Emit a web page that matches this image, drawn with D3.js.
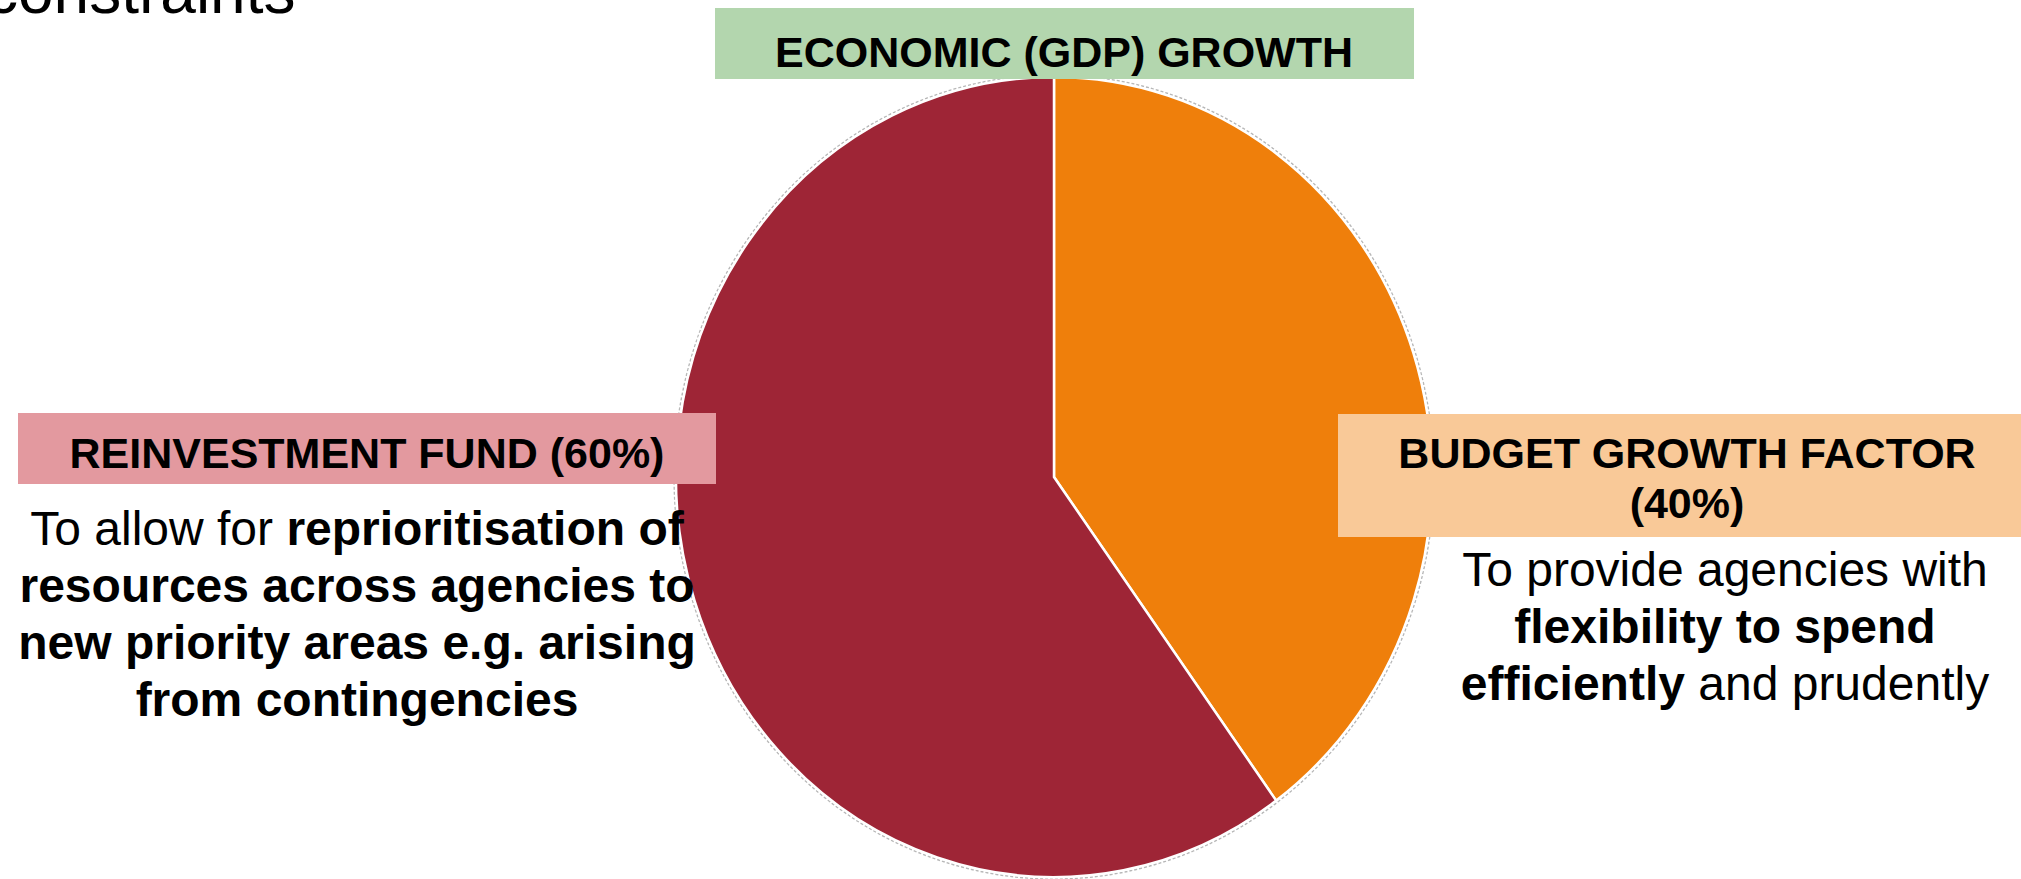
<!DOCTYPE html>
<html lang="en">
    <head>
        <meta charset="UTF-8" />
        <title>index</title>
        <script src="https://d3js.org/d3.v7.min.js"></script>
        <style>
            body {
                margin: 0;
                background-color: white;
                overflow: hidden;
            }
            text {
                font-family: "Liberation Sans", Arial, sans-serif;
                fill: black;
            }
        </style>
    </head>
    <body>
        <div id="my_dataviz"></div>
    </body>
<script>
// chart data
var categories = ["BUDGET GROWTH FACTOR", "REINVESTMENT FUND"];
var shares = [40, 60];
var topLabel = "ECONOMIC (GDP) GROWTH";

// header text for each side box
var leftHeader = ["REINVESTMENT FUND (60%)"];
var rightHeader = ["BUDGET GROWTH FACTOR", "(40%)"];

// description lines, each line is a list of [text, bold]
var leftLines = [
    [["To allow for ", false], ["reprioritisation of", true]],
    [["resources across agencies to", true]],
    [["new priority areas e.g. arising", true]],
    [["from contingencies", true]]
];
var rightLines = [
    [["To provide agencies with", false]],
    [["flexibility to spend", true]],
    [["efficiently", true], [" and prudently", false]]
];

var width = 2021, height = 879;

var svg = d3.select("#my_dataviz")
  .append("svg")
    .attr("width", width)
    .attr("height", height);

// slide title cut off at the top
svg.append("text")
    .attr("x", -14)
    .attr("y", 13)
    .style("font-size", "64px")
    .text("constraints");

// pie (slightly squeezed horizontally like the source)
var cx = 1054, cy = 477, r = 400, sx = 378 / 400;

var color = d3.scaleOrdinal()
    .domain(categories)
    .range(["#ef7f0b", "#9e2536"]);

var pie = d3.pie().sort(null).value(function(d, i) { return shares[i]; });
var arc = d3.arc().innerRadius(0).outerRadius(r);

var pg = svg.append("g")
    .attr("transform", "translate(" + cx + "," + cy + ") scale(" + sx + ",1)");

// faint dashed outline round the pie
pg.append("circle")
    .attr("r", r + 2)
    .attr("fill", "none")
    .attr("stroke", "#b8b8b8")
    .attr("stroke-width", 1.5)
    .attr("stroke-dasharray", "3,2")
    .attr("vector-effect", "non-scaling-stroke");

pg.selectAll("path")
  .data(pie(categories))
  .enter()
  .append("path")
    .attr("d", arc)
    .attr("fill", function(d) { return color(d.data); })
    .attr("stroke", "white")
    .attr("stroke-width", 2.5)
    .attr("stroke-linejoin", "miter")
    .attr("vector-effect", "non-scaling-stroke");

// header boxes
function headerBox(x, y, w, h, fill, lines, tx, ty) {
    svg.append("rect")
        .attr("x", x).attr("y", y)
        .attr("width", w).attr("height", h)
        .attr("fill", fill);
    svg.selectAll(null)
      .data(lines)
      .enter()
      .append("text")
        .attr("x", tx)
        .attr("y", function(d, i) { return ty + i * 50; })
        .attr("text-anchor", "middle")
        .style("font-size", "43px")
        .style("font-weight", "bold")
        .text(function(d) { return d; });
}

headerBox(715, 8, 699, 71, "#b3d6ae", [topLabel], 1064, 67);
headerBox(18, 413, 698, 71, "#e3999f", leftHeader, 367, 468);
headerBox(1338, 414, 700, 123, "#f9c998", rightHeader, 1687, 468);

// description text blocks
function textBlock(lines, tx, ty) {
    var t = svg.selectAll(null)
      .data(lines)
      .enter()
      .append("text")
        .attr("x", tx)
        .attr("y", function(d, i) { return ty + i * 57; })
        .attr("text-anchor", "middle")
        .style("font-size", "48px");
    t.selectAll("tspan")
      .data(function(d) { return d; })
      .enter()
      .append("tspan")
        .style("font-weight", function(d) { return d[1] ? "bold" : "normal"; })
        .text(function(d) { return d[0]; });
}

textBlock(leftLines, 357, 545);
textBlock(rightLines, 1725, 586);
</script>
</html>
